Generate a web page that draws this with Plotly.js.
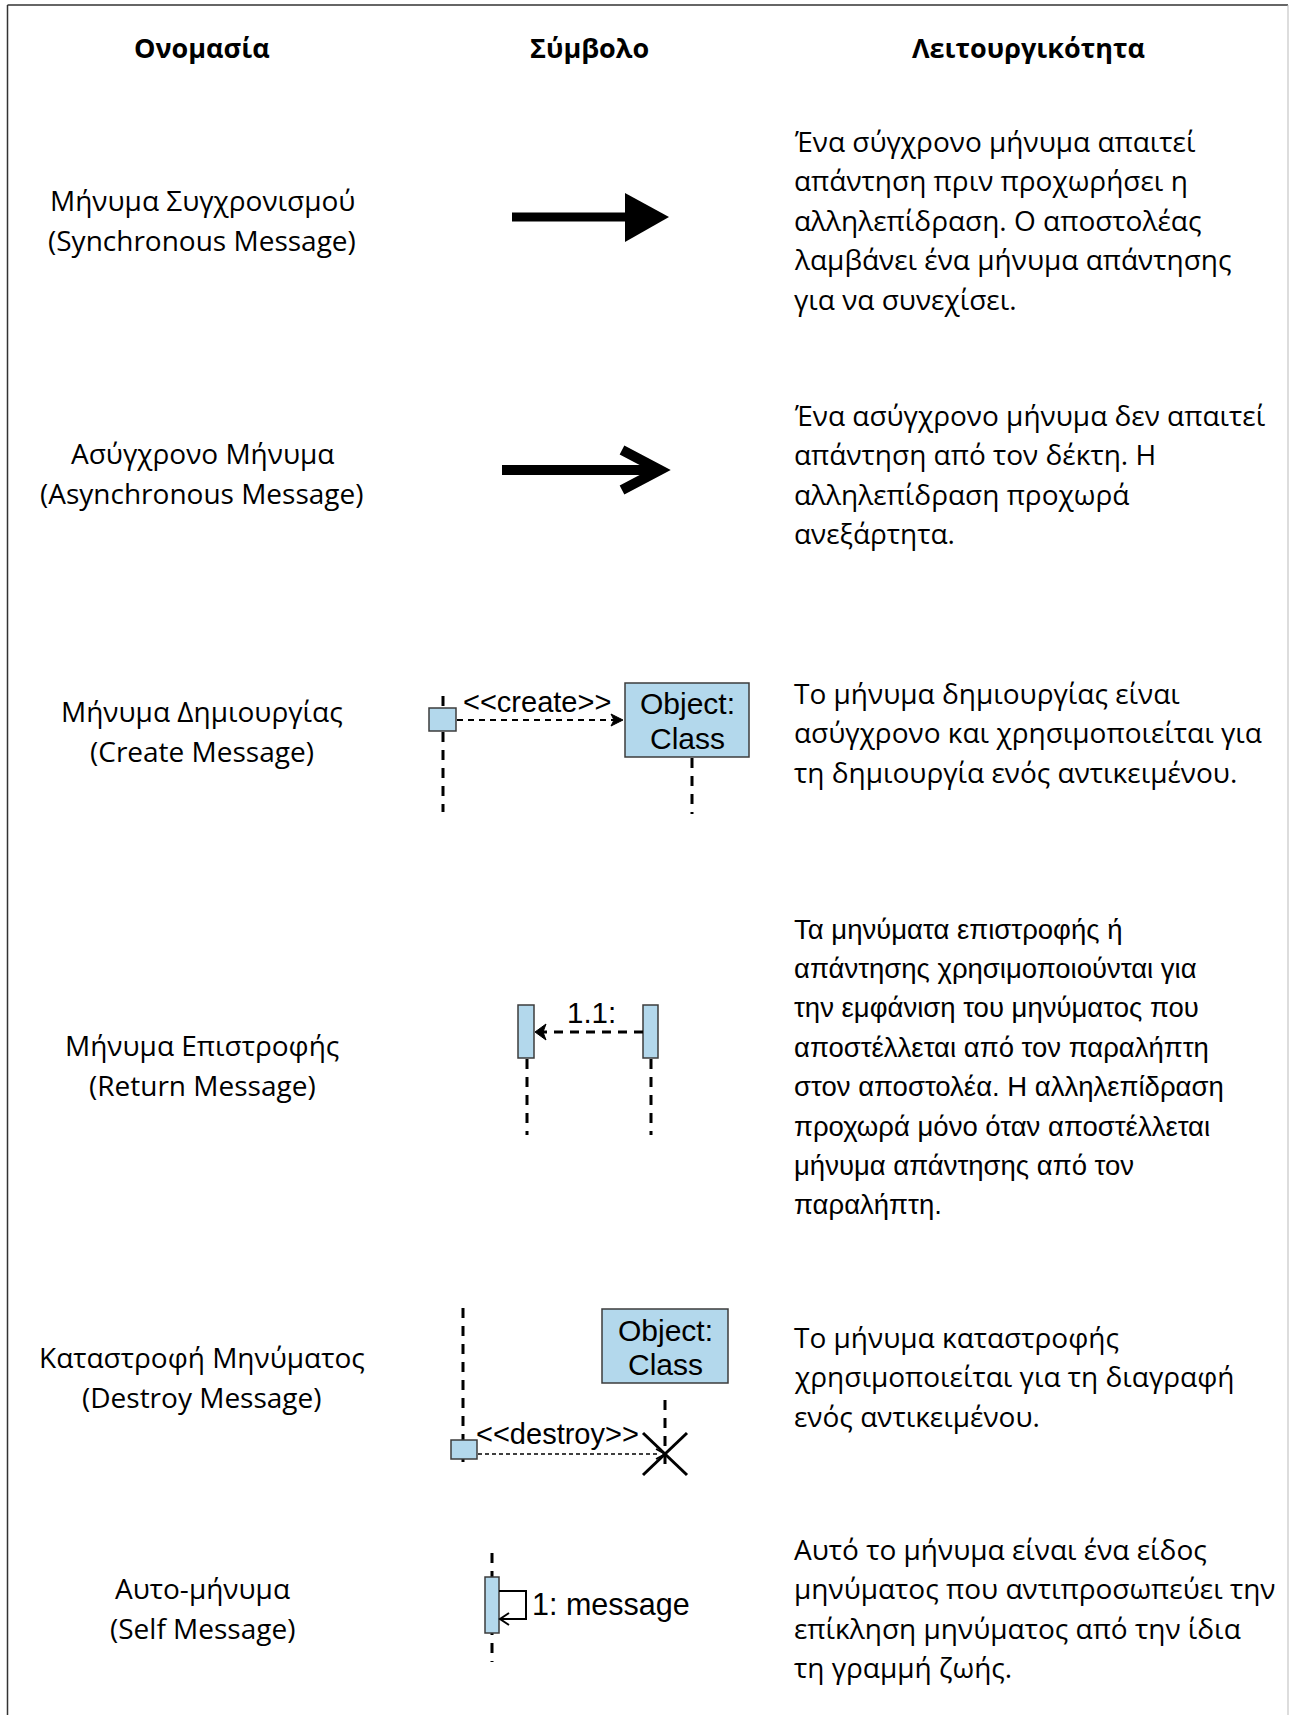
<!DOCTYPE html>
<html>
<head>
<meta charset="utf-8">
<script src="https://cdn.plot.ly/plotly-3.0.1.min.js"></script>
<style>html,body{margin:0;padding:0;background:#fff;} #chart{width:1290px;height:1715px;}</style>
</head>
<body>
<div id="chart"></div>
<script>
// ---- content ----
const headers = ['Ονομασία', 'Σύμβολο', 'Λειτουργικότητα'];
const namesGr = ['Μήνυμα Συγχρονισμού', 'Ασύγχρονο Μήνυμα', 'Μήνυμα Δημιουργίας', 'Μήνυμα Επιστροφής', 'Καταστροφή Μηνύματος', 'Αυτο-μήνυμα'];
const namesEn = ['(Synchronous Message)', '(Asynchronous Message)', '(Create Message)', '(Return Message)', '(Destroy Message)', '(Self Message)'];
const descSync = ['Ένα σύγχρονο μήνυμα απαιτεί', 'απάντηση πριν προχωρήσει η', 'αλληλεπίδραση. Ο αποστολέας', 'λαμβάνει ένα μήνυμα απάντησης', 'για να συνεχίσει.'];
const descAsync = ['Ένα ασύγχρονο μήνυμα δεν απαιτεί', 'απάντηση από τον δέκτη. Η', 'αλληλεπίδραση προχωρά', 'ανεξάρτητα.'];
const descCreate = ['Το μήνυμα δημιουργίας είναι', 'ασύγχρονο και χρησιμοποιείται για', 'τη δημιουργία ενός αντικειμένου.'];
const descReturn = ['Τα μηνύματα επιστροφής ή', 'απάντησης χρησιμοποιούνται για', 'την εμφάνιση του μηνύματος που', 'αποστέλλεται από τον παραλήπτη', 'στον αποστολέα. Η αλληλεπίδραση', 'προχωρά μόνο όταν αποστέλλεται', 'μήνυμα απάντησης από τον', 'παραλήπτη.'];
const descDestroy = ['Το μήνυμα καταστροφής', 'χρησιμοποιείται για τη διαγραφή', 'ενός αντικειμένου.'];
const descSelf = ['Αυτό το μήνυμα είναι ένα είδος', 'μηνύματος που αντιπροσωπεύει την', 'επίκληση μηνύματος από την ίδια', 'τη γραμμή ζωής.'];
const symbolLabels = ['&lt;&lt;create&gt;&gt;', 'Object:', 'Class', '1.1:', '&lt;&lt;destroy&gt;&gt;', '1: message'];

// ---- layout geometry ----
const W = 1290, H = 1715;
const CAL = 'Open Sans, Noto Sans, sans-serif';
const ARI = 'Liberation Sans, Arial, sans-serif';
const headerX = [202, 589, 1028], headerY = 47;
const nameX = 202;
const nameY = [200, 453, 711, 1045, 1357, 1588];
const descX = 792;
const descY0 = [141, 415, 693, 929, 1337, 1549];
const descFonts = [CAL, CAL, CAL, ARI, CAL, CAL];
const descs = [descSync, descAsync, descCreate, descReturn, descDestroy, descSelf];
const lineGap = 39.4, nameGap = 39.5;

const BLUE = '#b3d8ec', EDGE = '#3c3c3c';
const annotations = [];
const shapes = [];
function txt(x, y, t, fam, size, anchor, bold) {
  annotations.push({x: x, y: y, xref: 'x', yref: 'y', text: bold ? '<b>' + t + '</b>' : t, showarrow: false,
    xanchor: anchor || 'center', yanchor: 'middle', font: {family: fam, size: size, color: '#000'}});
}
function line(x0, y0, x1, y1, w, dash, color) {
  shapes.push({type: 'line', xref: 'x', yref: 'y', x0: x0, y0: y0, x1: x1, y1: y1,
    line: {color: color || '#000', width: w, dash: dash || 'solid'}});
}
function rect(x0, y0, x1, y1, w) {
  shapes.push({type: 'rect', xref: 'x', yref: 'y', x0: x0, y0: y0, x1: x1, y1: y1,
    fillcolor: BLUE, line: {color: EDGE, width: w || 1.5}});
}
function path(p, fill, w) {
  shapes.push({type: 'path', xref: 'x', yref: 'y', path: p, fillcolor: fill || 'rgba(0,0,0,0)',
    line: {color: '#000', width: w === undefined ? 0 : w}});
}

// frame
line(7.5, 5, 7.5, H + 5, 1.5, 'solid', '#333');
line(7.5, 5, 1288, 5, 1.5, 'solid', '#333');
line(1288, 5, 1288, H + 5, 1, 'solid', '#bbb');

// headers
headers.forEach((h, i) => txt(headerX[i], headerY, h, CAL, 27, 'center', true));
// names
namesGr.forEach((n, i) => { txt(nameX, nameY[i], n, CAL, 28); txt(nameX, nameY[i] + nameGap, namesEn[i], CAL, 28); });
// descriptions
descs.forEach((d, i) => d.forEach((l, j) => txt(descX, descY0[i] + j * lineGap, l, descFonts[i], descFonts[i] === ARI ? 27.5 : 28, 'left')));

// --- Row 1: synchronous arrow
line(512, 217, 628, 217, 9);
path('M 625 193 L 669 217 L 625 242 Z', '#000', 0);
// --- Row 2: asynchronous arrow
line(502, 470, 658, 470, 10);
path('M 622 450 L 660 470 L 622 490', null, 10);

// --- Row 3: create
const LL = '10px,8px';
line(443, 696, 443, 812, 3, LL);
rect(429, 708, 456, 731);
line(457, 720, 616, 720, 2.2, '6px,5px');
path('M 611 714 L 623 720 L 611 726 L 614 720 Z', '#000', 1);
rect(625, 683, 749, 757);
line(692, 758, 692, 814, 3, LL);
txt(537, 702, symbolLabels[0], ARI, 29);
txt(687, 703, symbolLabels[1], ARI, 30);
txt(687, 738, symbolLabels[2], ARI, 30);

// --- Row 4: return
line(527, 1059, 527, 1135, 3, LL);
line(651, 1059, 651, 1135, 3, LL);
rect(518, 1005, 534, 1058);
rect(643, 1005, 658, 1058);
line(643, 1032, 541, 1032, 3, '9px,7px');
path('M 546 1024 L 535 1032 L 546 1040 L 543 1032 Z', '#000', 1);
txt(591, 1012, symbolLabels[3], ARI, 29.5);

// --- Row 5: destroy
line(463, 1308, 463, 1463, 3, LL);
rect(451, 1440, 477, 1459);
line(478, 1454, 658, 1454, 1.5, '4px,3px');
path('M 656 1449 L 665 1454 L 656 1459', null, 1.5);
rect(602, 1309, 728, 1383);
line(665, 1400, 665, 1472, 3, LL);
line(643, 1433, 687, 1475, 3);
line(643, 1475, 687, 1433, 3);
txt(557, 1434, symbolLabels[4], ARI, 29);
txt(665, 1330, symbolLabels[1], ARI, 30);
txt(665, 1364, symbolLabels[2], ARI, 30);

// --- Row 6: self
line(492, 1553, 492, 1662, 3, LL);
rect(485, 1577, 499, 1633);
path('M 499 1591 L 526 1591 L 526 1619 L 500 1619', null, 2);
path('M 509 1613 L 500 1619 L 509 1625', null, 2);
txt(611, 1604, symbolLabels[5], ARI, 30.5);

const data = [{x: [0, W], y: [0, H], mode: 'markers', type: 'scatter', marker: {opacity: 0}, hoverinfo: 'skip', showlegend: false}];
const layout = {
  width: W, height: H, margin: {l: 0, r: 0, t: 0, b: 0, pad: 0},
  paper_bgcolor: '#fff', plot_bgcolor: '#fff', showlegend: false,
  xaxis: {range: [0, W], visible: false, fixedrange: true},
  yaxis: {range: [H, 0], visible: false, fixedrange: true},
  shapes: shapes, annotations: annotations
};
Plotly.newPlot('chart', data, layout, {staticPlot: true, displayModeBar: false});
</script>
</body>
</html>
